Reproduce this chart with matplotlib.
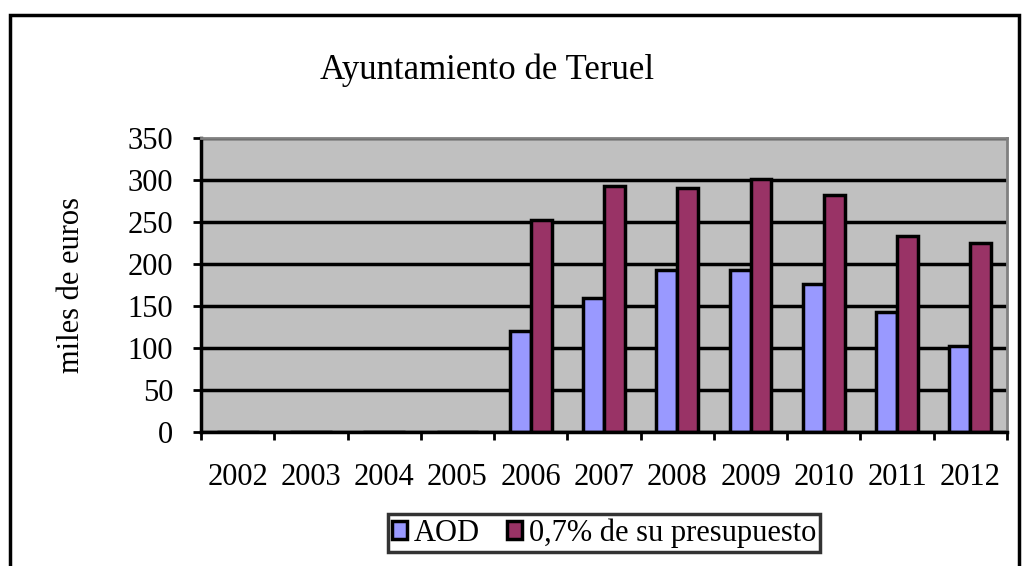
import matplotlib.pyplot as plt
import numpy as np
from matplotlib.patches import Rectangle

# datos
years = ["2002", "2003", "2004", "2005", "2006", "2007", "2008", "2009", "2010", "2011", "2012"]
aod = [0, 0, 0, 0, 120, 160, 193, 193, 176, 143, 102]
presupuesto = [0, 0, 0, 0, 252, 293, 290, 301, 282, 233, 225]

plt.rcParams["font.family"] = ["Liberation Serif", "DejaVu Serif"]

fig = plt.figure(figsize=(10.24, 5.66), dpi=100)
W, H = 1024, 566

# marco exterior del grafico
fig.patches.append(Rectangle((10 / W, -0.1), (1019 - 10) / W, 1.1 - 15 / H,
                             transform=fig.transFigure, fill=False,
                             edgecolor="black", linewidth=2.5))

ax = fig.add_axes([201 / W, 1 - 432 / H, (1007 - 201) / W, (432 - 138) / H])
ax.set_facecolor("#C0C0C0")

x = np.arange(len(years))
bw = 1 / 3.5
ax.bar(x - bw / 2, aod, width=bw, color="#9999FF", edgecolor="black", linewidth=2.5, label="AOD")
ax.bar(x + bw / 2, presupuesto, width=bw, color="#993366", edgecolor="black", linewidth=2.5,
       label="0,7% de su presupuesto")

ax.set_xlim(-0.5, len(years) - 0.5)
ax.set_ylim(0, 350)
ax.set_yticks(range(0, 351, 50))
ax.yaxis.grid(True, color="black", linewidth=2.5)
ax.set_axisbelow(True)

ax.set_xticks(x)
ax.set_xticklabels(years, fontsize=22)
ax.tick_params(axis="x", length=0, pad=22)
ax.set_xticks(np.arange(-0.5, len(years)), minor=True)
ax.tick_params(axis="x", which="minor", length=6, width=2, direction="out")
ax.tick_params(axis="y", labelsize=22, length=6, width=2, direction="out", pad=14)

for s in ["top", "right"]:
    ax.spines[s].set_color("#808080")
    ax.spines[s].set_linewidth(2)
for s in ["left", "bottom"]:
    ax.spines[s].set_linewidth(2.5)

ax.set_ylabel("miles de euros", fontsize=22, labelpad=30)
fig.text(487 / W, 1 - 70 / H, "Ayuntamiento de Teruel", fontsize=25, ha="center", va="center")

leg = fig.legend(loc="center", bbox_to_anchor=(604 / W, 1 - 533 / H), ncol=2, fontsize=22,
                 frameon=True, fancybox=False, edgecolor="black", handlelength=0.5,
                 handleheight=0.5, handletextpad=0.2, columnspacing=0.9, borderpad=0.15)
leg.get_frame().set_linewidth(2.5)

fig.savefig("out.png", dpi=100)
